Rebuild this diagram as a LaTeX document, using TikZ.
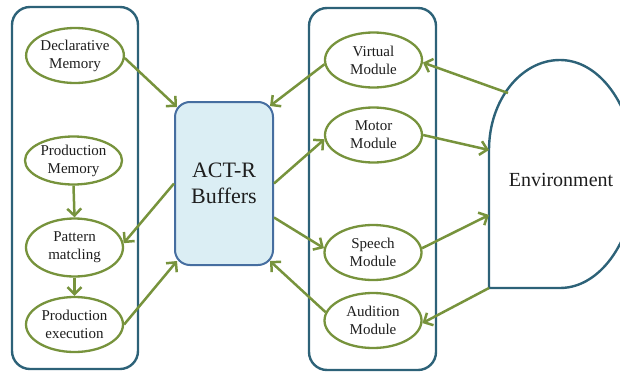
\documentclass[tikz,border=0pt]{standalone}
\usepackage{fontspec}
\setmainfont{Liberation Serif}
\usetikzlibrary{arrows.meta,shapes.geometric,calc}
\definecolor{grn}{RGB}{119,147,60}
\definecolor{panelc}{RGB}{45,98,120}
\definecolor{bufdraw}{RGB}{70,110,160}
\definecolor{buffill}{RGB}{219,238,244}
\definecolor{txt}{RGB}{30,30,30}
\begin{document}
\begin{tikzpicture}[x=1pt,y=-1pt,
  panel/.style={draw=panelc, line width=2.4pt, rounded corners=18pt},
  oval/.style={ellipse, draw=grn, line width=2.3pt, fill=white, inner sep=0pt,
    minimum width=97pt, minimum height=55pt, align=center, text=txt,
    font=\fontsize{15}{18}\selectfont},
  bufbox/.style={draw=bufdraw, fill=buffill, line width=2pt, rounded corners=15pt,
    minimum width=98pt, minimum height=163pt, align=center, text=txt, inner sep=0pt,
    font=\fontsize{22}{26}\selectfont},
  conn/.style={draw=grn, line width=2.5pt, -{Straight Barb[length=7pt,width=14pt,line width=2.5pt]}}
]
\useasboundingbox (0,0) rectangle (620,372);
\clip (0,0) rectangle (620,372);
% panels
\draw[panel] (12,7) rectangle (138,369);
\draw[panel] (309,8) rectangle (436,370);
% environment
\draw[panelc, line width=2.4pt] (489,288) -- (489,150)
  arc[start angle=180, end angle=270, x radius=71, y radius=90]
  arc[start angle=270, end angle=450, x radius=76, y radius=114] -- cycle;
\node[text=txt, font=\fontsize{20}{24}\selectfont] (env) at (561,180) {Environment};
\coordinate (envA) at (508,93);
\coordinate (envB) at (489,150);
\coordinate (envC) at (489,215);
\coordinate (envD) at (489,288);
% buffers
\node[bufbox] (buf) at (224,183.5) {ACT-R\\Buffers};
% left ovals
\node[oval] (decl) at (75,55.5) {Declarative\\Memory};
\node[oval, minimum height=48pt] (pmem) at (73.5,160.5) {Production\\Memory};
\node[oval, minimum height=58pt] (patt) at (74.5,247.5) {Pattern\\matcling};
\node[oval] (exec) at (74.5,324.5) {Production\\execution};
% right ovals
\node[oval] (virt) at (373.5,60) {Virtual\\Module};
\node[oval] (mot) at (373.5,135) {Motor\\Module};
\node[oval] (sp) at (373,252.5) {Speech\\Module};
\node[oval] (aud) at (373,320.5) {Audition\\Module};
% connectors
\draw[conn] (decl.-3) -- ($(buf.north west)+(3,6)$);
\draw[conn] (buf.west) -- (patt.5);
\draw[conn] (exec.east) -- ($(buf.south west)+(3,-5)$);
\draw[conn] (pmem.south) -- (patt.north);
\draw[conn] (patt.south) -- (exec.north);
\draw[conn] (virt.-175) -- ($(buf.north east)+(-4,5)$);
\draw[conn] (buf.east) -- (mot.-175);
\draw[conn] ($(buf.east)+(0,34)$) -- (sp.175);
\draw[conn] (aud.170) -- ($(buf.south east)+(-4,-5)$);
\draw[conn] (envA) -- (virt.-3);
\draw[conn] (mot.east) -- (envB);
\draw[conn] (sp.5) -- (envC);
\draw[conn] (envD) -- (aud.-3);
\end{tikzpicture}
\end{document}
